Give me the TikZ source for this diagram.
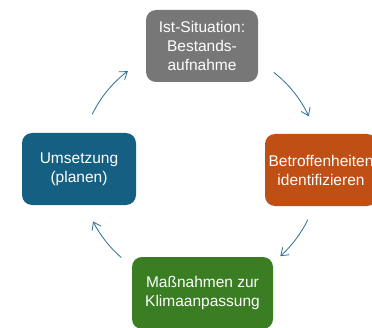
\documentclass[tikz,border=0pt]{standalone}
\usepackage{fontspec}
\setmainfont{Liberation Sans}
\usetikzlibrary{arrows.meta}

\definecolor{istgray}{HTML}{777777}
\definecolor{betrorange}{HTML}{C04F15}
\definecolor{massgreen}{HTML}{3A7D22}
\definecolor{umsblue}{HTML}{156082}
\definecolor{cycblue}{HTML}{2A6E95}

\begin{document}
\begin{tikzpicture}[x=1pt, y=1pt,
    box/.style={rounded corners=10pt, text=white, align=center, minimum height=72pt, inner sep=0pt, font=\fontsize{15.5}{19}\selectfont},
    cyc/.style={cycblue, line width=0.8pt, -{Straight Barb[length=7pt, width=10pt]}}]

    \useasboundingbox (0,0) rectangle (372,327);

    % Radius of the cycle
    \pgfmathsetmacro{\rad}{120}
    \coordinate (M) at (200,160); % centre of the cycle

    % --- 1. The four steps ---
    \node[box, fill=istgray, minimum width=112pt] (ist) at (202,281) {Ist-Situation:\\Bestands-\\aufnahme};
    \node[box, fill=betrorange, minimum width=112pt] (betr) at (321,157) {Betroffenheiten\\identifizieren};
    \node[box, fill=massgreen, minimum width=141pt] (mass) at (202.5,34) {Maßnahmen zur\\Klimaanpassung};
    \node[box, fill=umsblue, minimum width=114pt] (ums) at (79,158) {Umsetzung\\(planen)};

    % --- 2. Arrows round the cycle ---
    \draw[cyc] ([shift={(154:\rad)}]M) arc (154:127:\rad);
    \draw[cyc] ([shift={(52:\rad)}]M) arc (52:25:\rad);
    \draw[cyc] ([shift={(-26:\rad)}]M) arc (-26:-48:\rad);
    \draw[cyc] ([shift={(-131:\rad)}]M) arc (-131:-153:\rad);

\end{tikzpicture}
\end{document}
